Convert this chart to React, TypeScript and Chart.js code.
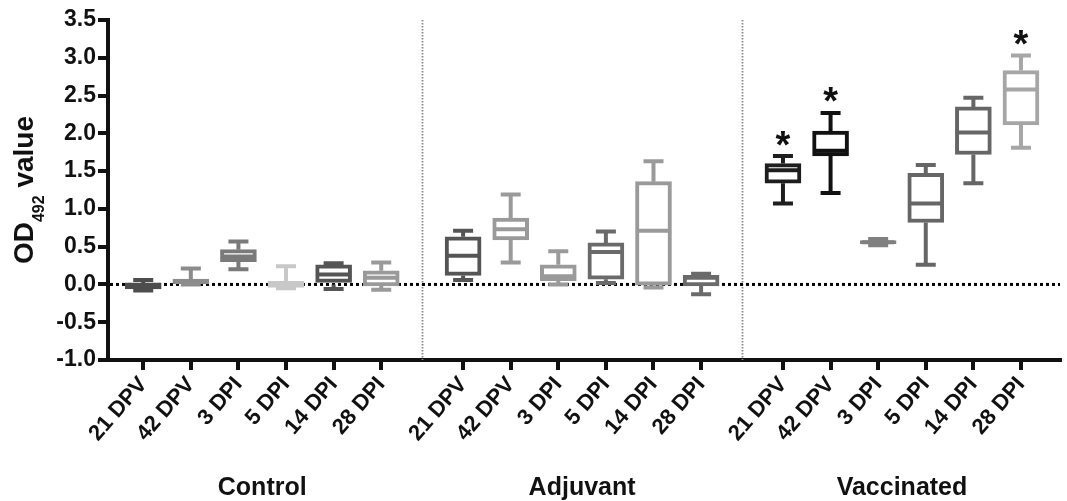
import React, { useEffect, useRef } from 'react';
import { Chart, registerables } from 'chart.js';

Chart.register(...registerables);

// ---------- data ----------
const timePoints = ['21 DPV', '42 DPV', '3 DPI', '5 DPI', '14 DPI', '28 DPI'];
const groupNames = ['Control', 'Adjuvant', 'Vaccinated'];

// each entry: [min, q1, median, q3, max]
const controlStats = [
  [-0.08, -0.06, -0.03, 0.02, 0.06],
  [0.0, 0.01, 0.04, 0.07, 0.21],
  [0.2, 0.3, 0.37, 0.46, 0.57],
  [-0.05, -0.04, 0.0, 0.04, 0.24],
  [-0.06, 0.0, 0.13, 0.26, 0.28],
  [-0.07, -0.02, 0.09, 0.18, 0.29],
];
const adjuvantStats = [
  [0.06, 0.12, 0.38, 0.63, 0.71],
  [0.29, 0.59, 0.73, 0.88, 1.19],
  [0.0, 0.05, 0.11, 0.26, 0.44],
  [0.02, 0.07, 0.43, 0.55, 0.7],
  [-0.04, -0.01, 0.71, 1.36, 1.63],
  [-0.13, -0.02, 0.09, 0.12, 0.14],
];
const vaccinatedStats = [
  [1.07, 1.34, 1.51, 1.6, 1.7],
  [1.21, 1.7, 1.77, 2.03, 2.27],
  [0.52, 0.54, 0.56, 0.58, 0.6],
  [0.26, 0.82, 1.07, 1.47, 1.58],
  [1.34, 1.72, 2.01, 2.35, 2.47],
  [1.81, 2.11, 2.58, 2.83, 3.03],
];

const controlColors = ['#4d4d4d', '#8c8c8c', '#7a7a7a', '#c8c8c8', '#555555', '#9a9a9a'];
const adjuvantColors = ['#555555', '#9a9a9a', '#9a9a9a', '#6a6a6a', '#9a9a9a', '#6a6a6a'];
const vaccinatedColors = ['#1e1e1e', '#111111', '#808080', '#666666', '#666666', '#a6a6a6'];

const controlSignificant = [false, false, false, false, false, false];
const adjuvantSignificant = [false, false, false, false, false, false];
const vaccinatedSignificant = [true, true, false, false, false, true];

const yMin = -1.0;
const yMax = 3.5;
const yStep = 0.5;
const yTitleMain = 'OD';
const yTitleSub = '492';
const yTitleRest = ' value';

// ---------- layout helpers ----------
const GROUP_STRIDE = 6.72;
const FONT = '"Liberation Sans", Arial, Helvetica, sans-serif';

const allStats = [controlStats, adjuvantStats, vaccinatedStats];
const allColors = [controlColors, adjuvantColors, vaccinatedColors];
const allSig = [controlSignificant, adjuvantSignificant, vaccinatedSignificant];

type Box = { x: number; s: number[]; color: string; sig: boolean; label: string };
const boxes: Box[] = [];
allStats.forEach((stats, g) => {
  stats.forEach((s, i) => {
    boxes.push({ x: g * GROUP_STRIDE + i, s, color: allColors[g][i], sig: allSig[g][i], label: timePoints[i] });
  });
});
const tickPositions = boxes.map((b) => b.x);
const tickLabels = boxes.map((b) => b.label);
const separators = [5 + (GROUP_STRIDE - 5) / 2, GROUP_STRIDE + 5 + (GROUP_STRIDE - 5) / 2];
const groupCenters = groupNames.map((_, g) => g * GROUP_STRIDE + 2.5);

const BOX_W = 36;
const CAP_W = 20;
const LW = 4;

const boxPlugin = {
  id: 'boxExtras',
  beforeDatasetsDraw(chart: any) {
    const { ctx, chartArea, scales } = chart;
    const x = scales.x;
    const y = scales.y;
    ctx.save();
    // group separators
    ctx.strokeStyle = '#8a8a8a';
    ctx.lineWidth = 1.8;
    ctx.setLineDash([1.5, 1.5]);
    separators.forEach((s) => {
      const px = Math.round(x.getPixelForValue(s)) + 0.5;
      ctx.beginPath();
      ctx.moveTo(px, chartArea.top);
      ctx.lineTo(px, chartArea.bottom);
      ctx.stroke();
    });
    // zero line
    ctx.strokeStyle = '#000';
    ctx.lineWidth = 3;
    ctx.setLineDash([3, 3]);
    const y0 = y.getPixelForValue(0);
    ctx.beginPath();
    ctx.moveTo(chartArea.left + 2, y0);
    ctx.lineTo(chartArea.right, y0);
    ctx.stroke();
    // whiskers and caps
    ctx.setLineDash([]);
    ctx.lineWidth = LW;
    ctx.lineCap = 'butt';
    boxes.forEach((b) => {
      const cx = x.getPixelForValue(b.x);
      const [mn, q1, , q3, mx] = b.s.map((v) => y.getPixelForValue(v));
      ctx.strokeStyle = b.color;
      ctx.beginPath();
      ctx.moveTo(cx, q3);
      ctx.lineTo(cx, mx);
      ctx.moveTo(cx, q1);
      ctx.lineTo(cx, mn);
      ctx.moveTo(cx - CAP_W / 2, mx);
      ctx.lineTo(cx + CAP_W / 2, mx);
      ctx.moveTo(cx - CAP_W / 2, mn);
      ctx.lineTo(cx + CAP_W / 2, mn);
      ctx.stroke();
    });
    ctx.restore();
  },
  afterDatasetsDraw(chart: any) {
    const { ctx, scales } = chart;
    const x = scales.x;
    const y = scales.y;
    ctx.save();
    ctx.lineWidth = LW;
    boxes.forEach((b) => {
      const cx = x.getPixelForValue(b.x);
      const md = y.getPixelForValue(b.s[2]);
      ctx.strokeStyle = b.color;
      ctx.beginPath();
      ctx.moveTo(cx - BOX_W / 2 + 2, md);
      ctx.lineTo(cx + BOX_W / 2 - 2, md);
      ctx.stroke();
    });
    // asterisks
    ctx.fillStyle = '#111';
    ctx.font = `bold 38px ${FONT}`;
    ctx.textAlign = 'center';
    ctx.textBaseline = 'alphabetic';
    const m = ctx.measureText('*');
    const off = (m.actualBoundingBoxAscent - m.actualBoundingBoxDescent) / 2;
    boxes.forEach((b) => {
      if (!b.sig) return;
      const cx = x.getPixelForValue(b.x);
      const top = y.getPixelForValue(b.s[4]);
      ctx.fillText('*', cx, top - 18 + off);
    });
    ctx.restore();
  },
  afterDraw(chart: any) {
    const { ctx, chartArea, scales } = chart;
    const x = scales.x;
    ctx.save();
    ctx.fillStyle = '#111';
    // group labels
    ctx.font = `bold 25px ${FONT}`;
    ctx.textAlign = 'center';
    ctx.textBaseline = 'alphabetic';
    groupNames.forEach((name, g) => {
      ctx.fillText(name, x.getPixelForValue(groupCenters[g]), 495);
    });
    // y title with subscript
    const mainFont = `bold 28px ${FONT}`;
    const subFont = `bold 16px ${FONT}`;
    ctx.font = mainFont;
    const w1 = ctx.measureText(yTitleMain).width;
    const w3 = ctx.measureText(yTitleRest).width;
    ctx.font = subFont;
    const w2 = ctx.measureText(yTitleSub).width;
    const total = w1 + w2 + w3;
    const cy = (chartArea.top + chartArea.bottom) / 2;
    ctx.translate(33, cy);
    ctx.rotate(-Math.PI / 2);
    ctx.textAlign = 'left';
    let tx = -total / 2;
    ctx.font = mainFont;
    ctx.fillText(yTitleMain, tx, 0);
    tx += w1;
    ctx.font = subFont;
    ctx.fillText(yTitleSub, tx, 11);
    tx += w2;
    ctx.font = mainFont;
    ctx.fillText(yTitleRest, tx, 0);
    ctx.restore();
  },
};

export default function App() {
  const ref = useRef<HTMLCanvasElement>(null);
  useEffect(() => {
    if (!ref.current) return;
    const chart = new Chart(ref.current, {
      type: 'bar',
      data: {
        datasets: [
          {
            data: boxes.map((b) => ({ x: b.x, y: [b.s[1], b.s[3]] })) as any,
            backgroundColor: '#ffffff',
            borderColor: boxes.map((b) => b.color),
            borderWidth: LW,
            borderSkipped: false,
            barThickness: BOX_W,
          },
        ],
      },
      options: {
        responsive: false,
        animation: false,
        events: [],
        layout: { padding: { top: 20, right: 7, left: 0, bottom: 0 } },
        plugins: { legend: { display: false }, tooltip: { enabled: false } },
        scales: {
          x: {
            type: 'linear',
            min: -0.74,
            max: 2 * GROUP_STRIDE + 5 + 0.82,
            offset: false,
            afterBuildTicks: (scale: any) => {
              scale.ticks = tickPositions.map((v) => ({ value: v }));
            },
            afterFit: (scale: any) => {
              scale.height = 141;
              scale.paddingLeft = 0;
              scale.paddingRight = 0;
            },
            border: { display: true, color: '#111', width: 4 },
            grid: {
              display: true,
              offset: false,
              drawOnChartArea: false,
              drawTicks: true,
              tickLength: 10,
              tickWidth: 4,
              tickColor: '#111',
              lineWidth: 4,
              color: '#111',
            },
            ticks: {
              autoSkip: false,
              minRotation: 49,
              maxRotation: 49,
              padding: 2,
              color: '#111',
              font: { family: FONT, size: 22, weight: 'bold' },
              callback: (_v: any, i: number) => tickLabels[i],
            },
          },
          y: {
            type: 'linear',
            min: yMin,
            max: yMax,
            afterFit: (scale: any) => {
              scale.width = 108;
            },
            border: { display: true, color: '#111', width: 4 },
            grid: {
              display: true,
              drawOnChartArea: false,
              drawTicks: true,
              tickLength: 10,
              tickWidth: 4,
              tickColor: '#111',
              lineWidth: 4,
              color: '#111',
            },
            ticks: {
              stepSize: yStep,
              padding: 2,
              color: '#111',
              font: { family: FONT, size: 23, weight: 'bold' },
              callback: (v: any) => Number(v).toFixed(1),
            },
          },
        },
      },
      plugins: [boxPlugin],
    });
    return () => chart.destroy();
  }, []);
  return (
    <div style={{ position: 'absolute', left: 0, top: 0, width: 1067, height: 501, background: '#fff' }}>
      <canvas ref={ref} width={1067} height={501} style={{ display: 'block' }} />
    </div>
  );
}
